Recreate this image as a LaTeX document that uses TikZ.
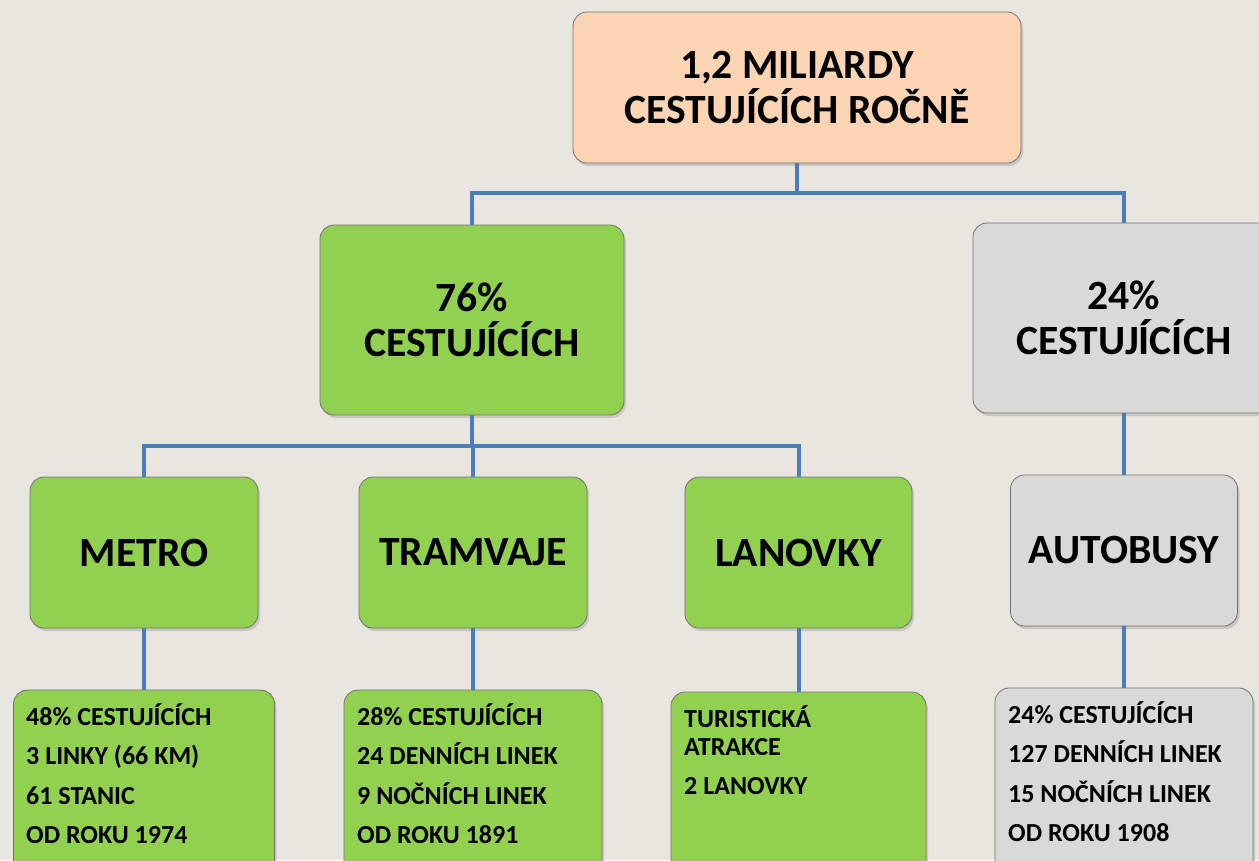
\documentclass[tikz,border=0pt]{standalone}
\usepackage{fontspec}
\setmainfont{Carlito}
\usetikzlibrary{shadows}
\definecolor{bgc}{RGB}{233,229,223}
\definecolor{peach}{RGB}{251,212,180}
\definecolor{grn}{RGB}{146,208,80}
\definecolor{gry}{RGB}{217,217,217}
\definecolor{conncol}{RGB}{74,126,187}
\begin{document}
\begin{tikzpicture}[x=1pt,y=-1pt,
  boxbase/.style={draw=black!55, line width=0.8pt, rounded corners=14pt,
    drop shadow={shadow xshift=2pt, shadow yshift=-3pt, opacity=0.3},
    inner sep=0pt, outer sep=0pt, align=center,
    font=\bfseries\fontsize{41.6}{45}\selectfont},
  peachbox/.style={boxbase, fill=peach},
  greenbox/.style={boxbase, fill=grn},
  graybox/.style={boxbase, fill=gry},
  detailtext/.style={anchor=north west, inner sep=0pt, align=left,
    font=\bfseries\fontsize{26}{28}\selectfont},
  conn/.style={draw=conncol, line width=4pt}]
\useasboundingbox (0,0) rectangle (1259,860);
\clip (0,0) rectangle (1259,860);
\fill[bgc] (0,0) rectangle (1259,860);

\coordinate (j1) at (797,193);
\coordinate (j2) at (472,446);

\node[peachbox, minimum width=448pt, minimum height=151pt] (top) at (797,87.5) {1,2 MILIARDY\\CESTUJÍCÍCH ROČNĚ};
\node[greenbox, minimum width=304pt, minimum height=190pt] (p76) at (472,320) {76\%\\CESTUJÍCÍCH};
\node[graybox, minimum width=302pt, minimum height=190pt] (p24) at (1124,318) {24\%\\CESTUJÍCÍCH};

\node[greenbox, minimum width=228pt, minimum height=151pt] (metro) at (144,552.5) {METRO};
\node[greenbox, minimum width=228pt, minimum height=151pt] (tram) at (473,552.5) {TRAMVAJE};
\node[greenbox, minimum width=227pt, minimum height=151pt] (lan) at (798.5,552.5) {LANOVKY};
\node[graybox, minimum width=227pt, minimum height=151pt] (bus) at (1124,550.5) {AUTOBUSY};

\node[greenbox, minimum width=261pt, minimum height=210pt] (metrod) at (144,795) {};
\node[greenbox, minimum width=258pt, minimum height=210pt] (tramd) at (473,795) {};
\node[greenbox, minimum width=255pt, minimum height=210pt] (land) at (798.5,797) {};
\node[graybox, minimum width=258pt, minimum height=210pt] (busd) at (1124,793) {};

\node[detailtext] (metrot) at ([xshift=12.5pt,yshift=-13pt]metrod.north west)
  {48\% CESTUJÍCÍCH\\[11.5pt]3 LINKY (66 KM)\\[11.5pt]61 STANIC\\[11.5pt]OD ROKU 1974};
\node[detailtext] (tramt) at ([xshift=13pt,yshift=-13pt]tramd.north west)
  {28\% CESTUJÍCÍCH\\[11.5pt]24 DENNÍCH LINEK\\[11.5pt]9 NOČNÍCH LINEK\\[11.5pt]OD ROKU 1891};
\node[detailtext] (lant) at ([xshift=13pt,yshift=-13pt]land.north west)
  {TURISTICKÁ\\ATRAKCE\\[11.5pt]2 LANOVKY};
\node[detailtext] (bust) at ([xshift=13pt,yshift=-13pt]busd.north west)
  {24\% CESTUJÍCÍCH\\[11.5pt]127 DENNÍCH LINEK\\[11.5pt]15 NOČNÍCH LINEK\\[11.5pt]OD ROKU 1908};

\draw[conn] (top.south) -- (j1);
\draw[conn] (j1) -| (p76.north);
\draw[conn] (j1) -| (p24.north);
\draw[conn] (p76.south) -- (j2);
\draw[conn] (j2) -| (metro.north);
\draw[conn] (j2) -| (tram.north);
\draw[conn] (j2) -| (lan.north);
\draw[conn] (p24.south) -- (bus.north);
\draw[conn] (metro.south) -- (metrod.north);
\draw[conn] (tram.south) -- (tramd.north);
\draw[conn] (lan.south) -- (land.north);
\draw[conn] (bus.south) -- (busd.north);
\end{tikzpicture}
\end{document}
